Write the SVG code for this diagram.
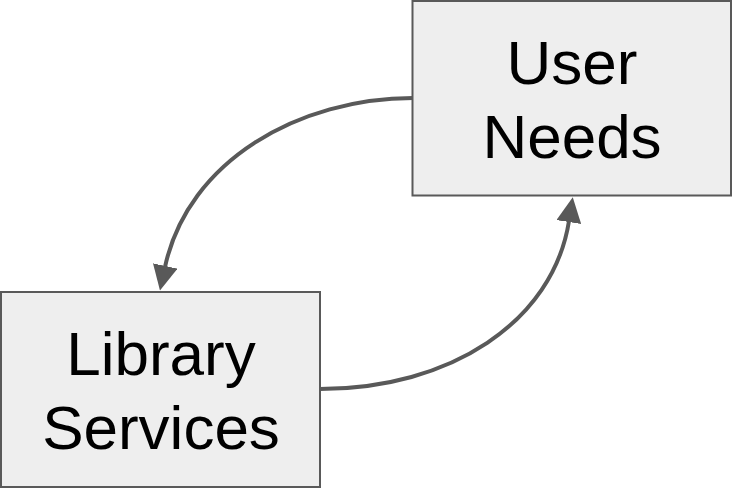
<svg xmlns="http://www.w3.org/2000/svg" width="732" height="502" viewBox="0 0 732 502">
<style>
.box{fill:#eeeeee;stroke:#595959;stroke-width:2}
.lbl{font-family:"Liberation Sans",Arial,sans-serif;font-size:62px;fill:#000;text-anchor:middle}
.conn{fill:none;stroke:#595959;stroke-width:4}
</style>
<defs>
<marker id="arr" viewBox="0 0 24 24" markerWidth="25" markerHeight="25" refX="1" refY="12" orient="auto" markerUnits="userSpaceOnUse">
<path d="M0,0 L24,12 L0,24 z" fill="#595959"/>
</marker>
</defs>
<g id="user-needs">
<rect class="box" x="412.5" y="1" width="318.5" height="194.5"/>
<text class="lbl" x="572" y="84">User</text>
<text class="lbl" x="572" y="158">Needs</text>
</g>
<g id="library-services">
<rect class="box" x="1" y="292" width="319" height="195"/>
<text class="lbl" x="161" y="375">Library</text>
<text class="lbl" x="161" y="449">Services</text>
</g>
<g id="connectors">
<path class="conn" d="M413,98 C300,98 188,160 165,267" marker-end="url(#arr)"/>
<path class="conn" d="M320,389 C450,389 553,322 569,221" marker-end="url(#arr)"/>
</g>
</svg>
